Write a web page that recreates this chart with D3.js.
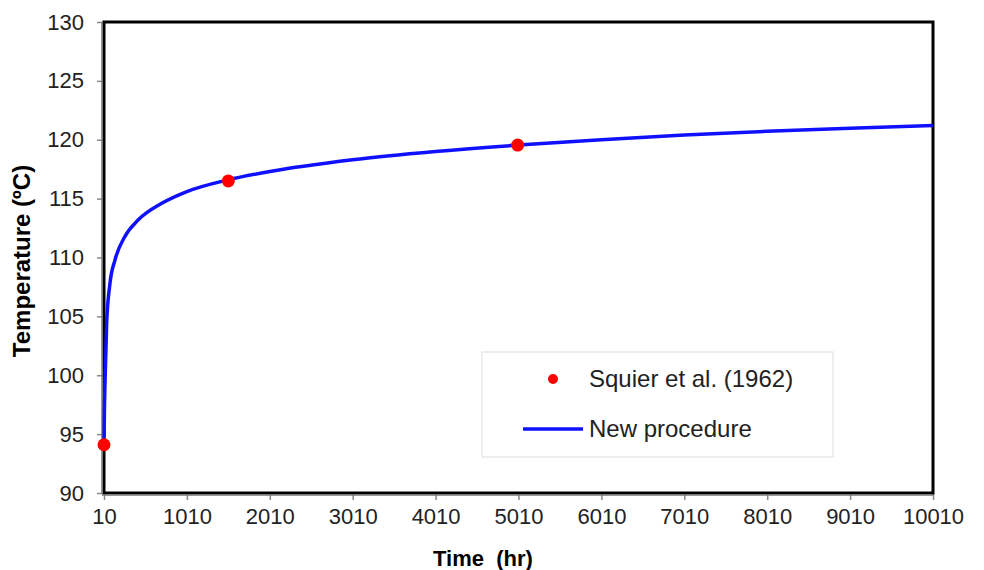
<!DOCTYPE html>
<html>
<head>
<meta charset="utf-8">
<script src="https://cdn.jsdelivr.net/npm/d3@7"></script>
<style>
  body { margin: 0; background: #fff; }
  svg { display: block; font-family: Arial, "Liberation Sans", sans-serif; }
</style>
</head>
<body>
<svg id="chart" width="984" height="570"></svg>
<script>
// measured points
const obsTime = [10, 1510, 5000];
const obsTemp = [94.1, 116.5, 119.55];

// model curve
const curveTime = [10, 15, 22, 42, 82, 143, 263, 424, 706, 1010, 1510, 2010, 3010, 4010, 5010, 6010, 7010, 8010, 9010, 10010];
const curveTemp = [94.1, 97, 99.3, 104.4, 107.8, 109.8, 111.8, 113.2, 114.6, 115.6, 116.6, 117.3, 118.3, 119.0, 119.55, 120.0, 120.4, 120.72, 120.98, 121.2];

const xTicks = [10, 1010, 2010, 3010, 4010, 5010, 6010, 7010, 8010, 9010, 10010];
const yTicks = [90, 95, 100, 105, 110, 115, 120, 125, 130];

const margin = { top: 22, right: 51, bottom: 77, left: 104 };
const width = 984 - margin.left - margin.right;
const height = 570 - margin.top - margin.bottom;

const svg = d3.select('#chart');
const g = svg.append('g').attr('transform', `translate(${margin.left},${margin.top})`);

const x = d3.scaleLinear().domain([10, 10010]).range([0, width]);
const y = d3.scaleLinear().domain([90, 130]).range([height, 0]);

// axes
const xAxis = g.append('g')
  .attr('transform', `translate(0,${height})`)
  .call(d3.axisBottom(x).tickValues(xTicks).tickFormat(d3.format('d')).tickSize(7).tickPadding(8));

const yAxis = g.append('g')
  .call(d3.axisLeft(y).tickValues(yTicks).tickSize(7).tickPadding(13));

[xAxis, yAxis].forEach((a) => {
  a.select('.domain').remove();
  a.selectAll('.tick line').attr('stroke', '#888').attr('stroke-width', 1.5);
  a.selectAll('.tick text').attr('fill', '#222').style('font-size', '22px');
});

// plot frame
g.append('rect')
  .attr('width', width)
  .attr('height', height)
  .attr('fill', 'none')
  .attr('stroke', '#000')
  .attr('stroke-width', 3);

g.append('line')
  .attr('x1', -2).attr('x2', -2).attr('y1', 0).attr('y2', height + 1)
  .attr('stroke', '#777').attr('stroke-width', 1.5);
g.append('line')
  .attr('x1', -2).attr('x2', width).attr('y1', height + 2).attr('y2', height + 2)
  .attr('stroke', '#777').attr('stroke-width', 1.5);

// curve
const line = d3.line()
  .x((d, i) => x(curveTime[i]))
  .y((d) => y(d))
  .curve(d3.curveMonotoneX);

g.append('path')
  .datum(curveTemp)
  .attr('fill', 'none')
  .attr('stroke', '#1010ff')
  .attr('stroke-width', 3.5)
  .attr('d', line);

// observations
g.selectAll('circle.obs')
  .data(obsTemp)
  .enter()
  .append('circle')
  .attr('class', 'obs')
  .attr('cx', (d, i) => x(obsTime[i]))
  .attr('cy', (d) => y(d))
  .attr('r', 6.5)
  .attr('fill', '#ff0000');

// legend
const lg = svg.append('g').attr('transform', 'translate(482,352)');
lg.append('rect')
  .attr('width', 351)
  .attr('height', 105)
  .attr('fill', '#fff')
  .attr('stroke', '#e3e3e3')
  .attr('stroke-width', 1.2);
lg.append('circle').attr('cx', 71).attr('cy', 27).attr('r', 5).attr('fill', '#ff0000');
lg.append('text').attr('x', 107).attr('y', 35).style('font-size', '24px').attr('fill', '#222')
  .text('Squier et al. (1962)');
lg.append('line').attr('x1', 41).attr('x2', 101).attr('y1', 77).attr('y2', 77)
  .attr('stroke', '#1010ff').attr('stroke-width', 3.5);
lg.append('text').attr('x', 107).attr('y', 85).style('font-size', '24px').attr('fill', '#222')
  .text('New procedure');

// axis titles
svg.append('text')
  .attr('x', 483)
  .attr('y', 566)
  .attr('text-anchor', 'middle')
  .style('font-size', '22px')
  .style('font-weight', 'bold')
  .style('white-space', 'pre')
  .text('Time  (hr)');

svg.append('text')
  .attr('transform', 'translate(30,261) rotate(-90)')
  .attr('text-anchor', 'middle')
  .style('font-size', '24px')
  .style('font-weight', 'bold')
  .text('Temperature (ºC)');
</script>
</body>
</html>
